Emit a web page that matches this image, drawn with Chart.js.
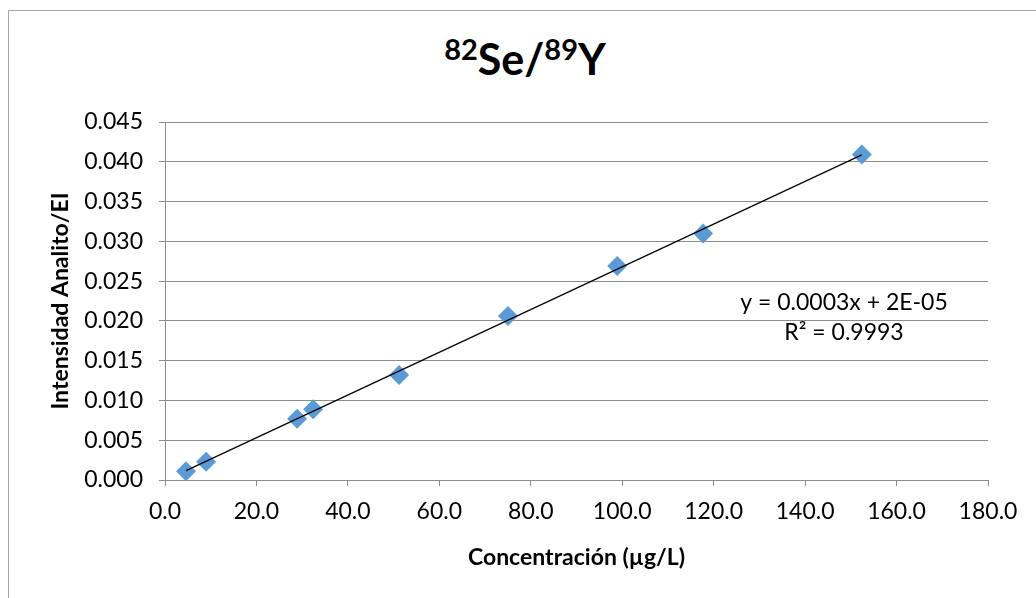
<!DOCTYPE html>
<html>
<head>
<meta charset="utf-8">
<script src="https://cdn.jsdelivr.net/npm/chart.js@4.4.1/dist/chart.umd.min.js"></script>
<style>
  html, body { margin: 0; padding: 0; background: #fff; overflow: hidden; }
  #wrap { position: relative; width: 1036px; height: 598px; overflow: hidden; }
  #frame { position: absolute; left: 8px; top: 10px; width: 1100px; height: 700px;
           border: 1px solid #a6a6a6; box-sizing: border-box; }
  #title { position: absolute; left: 0; width: 1050px; top: 33px; text-align: center;
           font-family: Lato, "Noto Sans", sans-serif; font-weight: bold; font-size: 43px;
           line-height: 1.2; color: #000; white-space: nowrap; }
  #title .sup { font-size: 29px; position: relative; top: -15px; }
  canvas { position: absolute; left: 0; top: 0; }
</style>
</head>
<body>
<div id="wrap">
  <div id="frame"></div>
  <div id="title"><span class="sup">82</span>Se/<span class="sup">89</span>Y</div>
  <canvas id="chart" width="1036" height="598"></canvas>
</div>
<script>
// concentración (µg/L) and intensidad analito / EI
const concentracion = [4.6, 9.0, 28.9, 32.4, 51.2, 75.0, 98.9, 117.7, 152.4];
const intensidad = [0.0011, 0.0023, 0.0077, 0.0089, 0.0132, 0.0206, 0.0269, 0.0310, 0.0409];
const ecuacion = 'y = 0.0003x + 2E-05';
const rCuadrado = 'R² = 0.9993';

// linear least squares for the trendline
function ajusteLineal(xs, ys) {
    var n = xs.length, sx = 0, sy = 0, sxy = 0, sxx = 0;
    for (var i = 0; i < n; i++) {
        sx += xs[i]; sy += ys[i]; sxy += xs[i] * ys[i]; sxx += xs[i] * xs[i];
    }
    var m = (n * sxy - sx * sy) / (n * sxx - sx * sx);
    return { m: m, b: (sy - m * sx) / n };
}
const fit = ajusteLineal(concentracion, intensidad);
const xMin = Math.min.apply(null, concentracion);
const xMax = Math.max.apply(null, concentracion);
const tendencia = [
    { x: xMin, y: fit.m * xMin + fit.b },
    { x: xMax, y: fit.m * xMax + fit.b }
];

const FONT = 'Lato, "Noto Sans", sans-serif';
const GRIS = '#8c8c8c';

// trendline label drawn next to the line like in the spreadsheet
const etiquetaTendencia = {
    id: 'etiquetaTendencia',
    afterDraw(chart) {
        var ctx = chart.ctx;
        ctx.save();
        ctx.fillStyle = '#000';
        ctx.font = '23px ' + FONT;
        ctx.textAlign = 'center';
        ctx.textBaseline = 'middle';
        ctx.fillText(ecuacion, 844, 303);
        ctx.fillText(rCuadrado, 844, 333);
        ctx.restore();
    }
};

new Chart(document.getElementById('chart').getContext('2d'), {
    type: 'scatter',
    data: {
        datasets: [{
            label: 'Se/Y',
            data: concentracion.map(function (c, i) { return { x: c, y: intensidad[i] }; }),
            pointStyle: 'rectRot',
            pointRadius: 10,
            pointHoverRadius: 10,
            backgroundColor: '#5B9BD5',
            borderColor: '#5B9BD5',
            borderWidth: 0,
            order: 2
        }, {
            label: 'Lineal',
            type: 'line',
            data: tendencia,
            borderColor: '#000',
            borderWidth: 1.2,
            pointRadius: 0,
            fill: false,
            order: 1
        }]
    },
    options: {
        responsive: false,
        animation: false,
        events: [],
        layout: { padding: { left: 45, top: 122, right: 48, bottom: 20 } },
        plugins: { legend: { display: false }, tooltip: { enabled: false }, title: { display: false } },
        scales: {
            x: {
                type: 'linear',
                min: 0, max: 180,
                afterFit: function (s) { s.height = 98; },
                border: { display: true, color: GRIS, width: 1 },
                grid: { drawOnChartArea: false, drawTicks: true, tickLength: 6, color: GRIS },
                ticks: {
                    stepSize: 20, padding: 12, color: '#000',
                    font: { family: FONT, size: 23 },
                    callback: function (v) { return v.toFixed(1); }
                },
                title: {
                    display: true, text: 'Concentración (µg/L)', color: '#000',
                    font: { family: FONT, size: 23, weight: 'bold' },
                    padding: { top: 0, bottom: 7 }
                }
            },
            y: {
                type: 'linear',
                min: 0, max: 0.045,
                afterFit: function (s) { s.width = 120; },
                border: { display: true, color: GRIS, width: 1 },
                grid: { color: GRIS, tickLength: 6, lineWidth: 1 },
                ticks: {
                    stepSize: 0.005, padding: 16, color: '#000',
                    font: { family: FONT, size: 23 },
                    callback: function (v) { return v.toFixed(3); }
                },
                title: {
                    display: true, text: 'Intensidad Analito/EI', color: '#000',
                    font: { family: FONT, size: 23, weight: 'bold' },
                    padding: { top: 2, bottom: 0 }
                }
            }
        }
    },
    plugins: [etiquetaTendencia]
});
</script>
</body>
</html>
